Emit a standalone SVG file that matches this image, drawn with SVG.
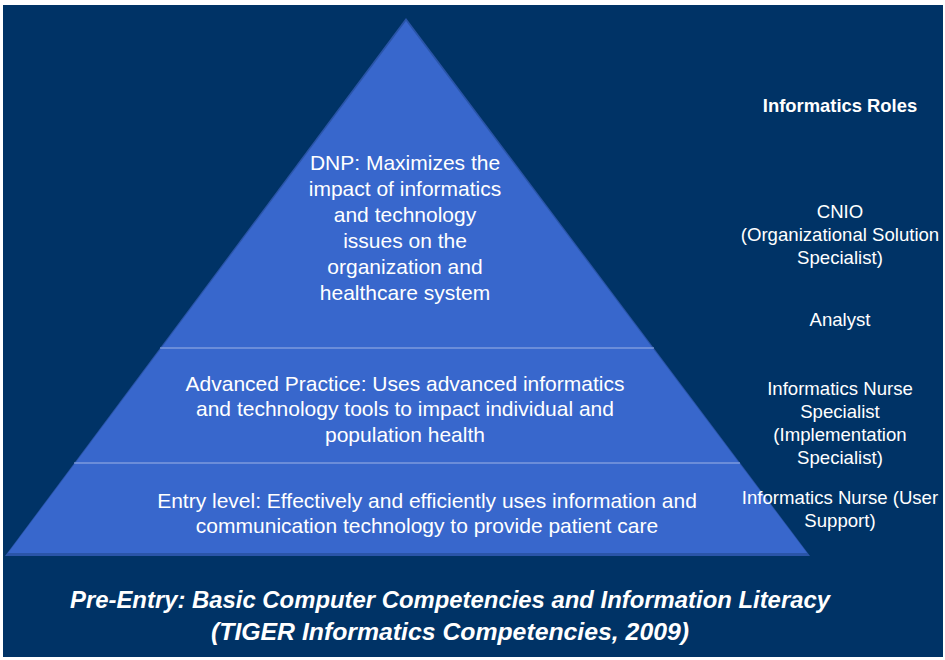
<svg xmlns="http://www.w3.org/2000/svg" width="945" height="660" viewBox="0 0 945 660">
<style>
.t{font-family:"Liberation Sans",Arial,sans-serif;fill:#ffffff;text-anchor:middle}
.p{font-size:21px}
.r{font-size:18.6px}
.h{font-size:18.4px;font-weight:bold}
.f{font-size:24px;font-weight:bold;font-style:italic}
.div{stroke:#9db3e6;stroke-width:1.2}
</style>
<rect x="0" y="0" width="945" height="660" fill="#ffffff"/>
<rect x="3" y="5" width="940" height="652" fill="#003366"/>
<g id="pyramid">
<polygon points="406,18 5,556 810,556" fill="#2a55a8"/>
<polygon points="406,21 8,553 807,553" fill="#3867cc"/>
<line class="div" x1="160" y1="348" x2="654" y2="348"/>
<line class="div" x1="74" y1="463" x2="740" y2="463"/>
</g>
<g id="dnp">
<text class="t p" x="405" y="170">DNP: Maximizes the</text>
<text class="t p" x="405" y="196">impact of informatics</text>
<text class="t p" x="405" y="222">and technology</text>
<text class="t p" x="405" y="248">issues on the</text>
<text class="t p" x="405" y="274">organization and</text>
<text class="t p" x="405" y="300">healthcare system</text>
</g>
<g id="advanced">
<text class="t p" x="405" y="391">Advanced Practice: Uses advanced informatics</text>
<text class="t p" x="405" y="416">and technology tools to impact individual  and</text>
<text class="t p" x="405" y="442">population health</text>
</g>
<g id="entry">
<text class="t p" x="427" y="508">Entry level: Effectively and efficiently uses information and</text>
<text class="t p" x="427" y="533">communication technology to provide patient care</text>
</g>
<g id="roles">
<text class="t h" x="840" y="112">Informatics Roles</text>
<text class="t r" x="840" y="218">CNIO</text>
<text class="t r" x="840" y="241">(Organizational Solution</text>
<text class="t r" x="840" y="264">Specialist)</text>
<text class="t r" x="840" y="326">Analyst</text>
<text class="t r" x="840" y="395">Informatics Nurse</text>
<text class="t r" x="840" y="418">Specialist</text>
<text class="t r" x="840" y="441">(Implementation</text>
<text class="t r" x="840" y="464">Specialist)</text>
<text class="t r" x="840" y="504">Informatics Nurse (User</text>
<text class="t r" x="840" y="527">Support)</text>
</g>
<g id="preentry">
<text class="t f" x="450" y="608" textLength="760" lengthAdjust="spacingAndGlyphs">Pre-Entry: Basic Computer Competencies and Information Literacy</text>
<text class="t f" x="450" y="640" textLength="478" lengthAdjust="spacingAndGlyphs">(TIGER Informatics Competencies, 2009)</text>
</g>
<g id="connectors"></g>
</svg>
